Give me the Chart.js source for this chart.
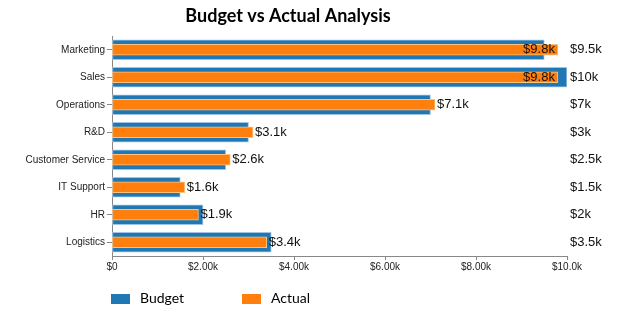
<!DOCTYPE html>
<html lang="en">
<head>
    <meta charset="UTF-8">
    <title>Budget vs Actual Analysis</title>
    <script src="https://cdn.jsdelivr.net/npm/chart.js"></script>
    <style>
        html, body {
            margin: 0;
            padding: 0;
            background: #ffffff;
        }
        .wrap {
            position: relative;
            width: 641px;
            height: 321px;
        }
    </style>
</head>
<body>
    <div class="wrap">
        <canvas id="budgetChart" width="641" height="321"></canvas>
    </div>

    <script>
        // Chart data
        const departments = ['Marketing', 'Sales', 'Operations', 'R&D', 'Customer Service', 'IT Support', 'HR', 'Logistics'];
        const budget = [9500, 10000, 7000, 3000, 2500, 1500, 2000, 3500];
        const actual = [9800, 9800, 7100, 3100, 2600, 1600, 1900, 3400];
        const xTickLabels = ['$0', '$2.00k', '$4.00k', '$6.00k', '$8.00k', '$10.0k'];

        function kLabel(v) {
            return '$' + (v / 1000) + 'k';
        }

        // title, value labels and legend drawn on the canvas
        const extrasPlugin = {
            id: 'extras',
            afterDraw(chart) {
                const ctx = chart.ctx;
                const area = chart.chartArea;
                const x = chart.scales.x;
                const y = chart.scales.y;
                ctx.save();

                // title
                ctx.font = 'bold 18px Lato';
                ctx.fillStyle = '#000';
                ctx.textAlign = 'center';
                ctx.textBaseline = 'middle';
                ctx.fillText('Budget vs Actual Analysis', 288, 16);

                // actual labels at bar end
                ctx.font = '13px "Liberation Sans", Arial';
                ctx.fillStyle = '#111';
                actual.forEach((v, i) => {
                    const px = x.getPixelForValue(v);
                    const py = y.getPixelForValue(i);
                    const txt = kLabel(v);
                    const w = ctx.measureText(txt).width;
                    if (px + 3 + w > area.right) {
                        ctx.textAlign = 'right';
                        ctx.fillText(txt, px - 3, py);
                    } else {
                        ctx.textAlign = 'left';
                        ctx.fillText(txt, px + 2, py);
                    }
                });

                // budget labels in right column
                ctx.textAlign = 'left';
                budget.forEach((v, i) => {
                    ctx.fillText(kLabel(v), area.right + 3, y.getPixelForValue(i));
                });

                // legend
                const items = [
                    { label: 'Budget', color: '#1f77b4', x: 111 },
                    { label: 'Actual', color: '#ff7f0e', x: 242 }
                ];
                ctx.font = '14px Lato';
                items.forEach(it => {
                    ctx.fillStyle = it.color;
                    ctx.fillRect(it.x, 294, 19, 10);
                    ctx.fillStyle = '#000';
                    ctx.fillText(it.label, it.x + 29, 298);
                });

                ctx.restore();
            }
        };

        const ctx = document.getElementById('budgetChart').getContext('2d');
        new Chart(ctx, {
            type: 'bar',
            data: {
                labels: departments,
                datasets: [
                    {
                        label: 'Budget',
                        data: budget,
                        backgroundColor: '#1f77b4',
                        borderColor: '#9ec4e6',
                        borderWidth: 1,
                        borderSkipped: false,
                        barThickness: 20,
                        grouped: false,
                        order: 1
                    },
                    {
                        label: 'Actual',
                        data: actual,
                        backgroundColor: '#ff7f0e',
                        borderColor: '#ffc27a',
                        borderWidth: 1,
                        borderSkipped: false,
                        barThickness: 11,
                        grouped: false,
                        order: 0
                    }
                ]
            },
            options: {
                indexAxis: 'y',
                responsive: false,
                animation: false,
                layout: {
                    padding: { top: 36, right: 74, bottom: 0, left: 0 }
                },
                plugins: {
                    legend: { display: false },
                    title: { display: false },
                    tooltip: { enabled: false }
                },
                scales: {
                    x: {
                        min: 0,
                        max: 10000,
                        afterFit(scale) { scale.height = 65; },
                        afterBuildTicks(scale) {
                            scale.ticks = xTickLabels.map((t, i) => ({ value: i * 2000 }));
                        },
                        border: { display: true, color: '#888', width: 1 },
                        grid: {
                            drawOnChartArea: false,
                            drawTicks: true,
                            tickLength: 4,
                            color: '#888'
                        },
                        ticks: {
                            autoSkip: false,
                            maxRotation: 0,
                            padding: 1,
                            color: '#222',
                            font: { family: '"Liberation Sans", Arial', size: 10 },
                            callback: (v, i) => xTickLabels[i]
                        }
                    },
                    y: {
                        afterFit(scale) { scale.width = 112; },
                        border: { display: true, color: '#888', width: 1 },
                        grid: {
                            offset: false,
                            drawOnChartArea: false,
                            drawTicks: true,
                            tickLength: 5,
                            color: '#888'
                        },
                        ticks: {
                            padding: 2,
                            color: '#222',
                            font: { family: '"Liberation Sans", Arial', size: 10 }
                        }
                    }
                }
            },
            plugins: [extrasPlugin]
        });
    </script>
</body>
</html>
